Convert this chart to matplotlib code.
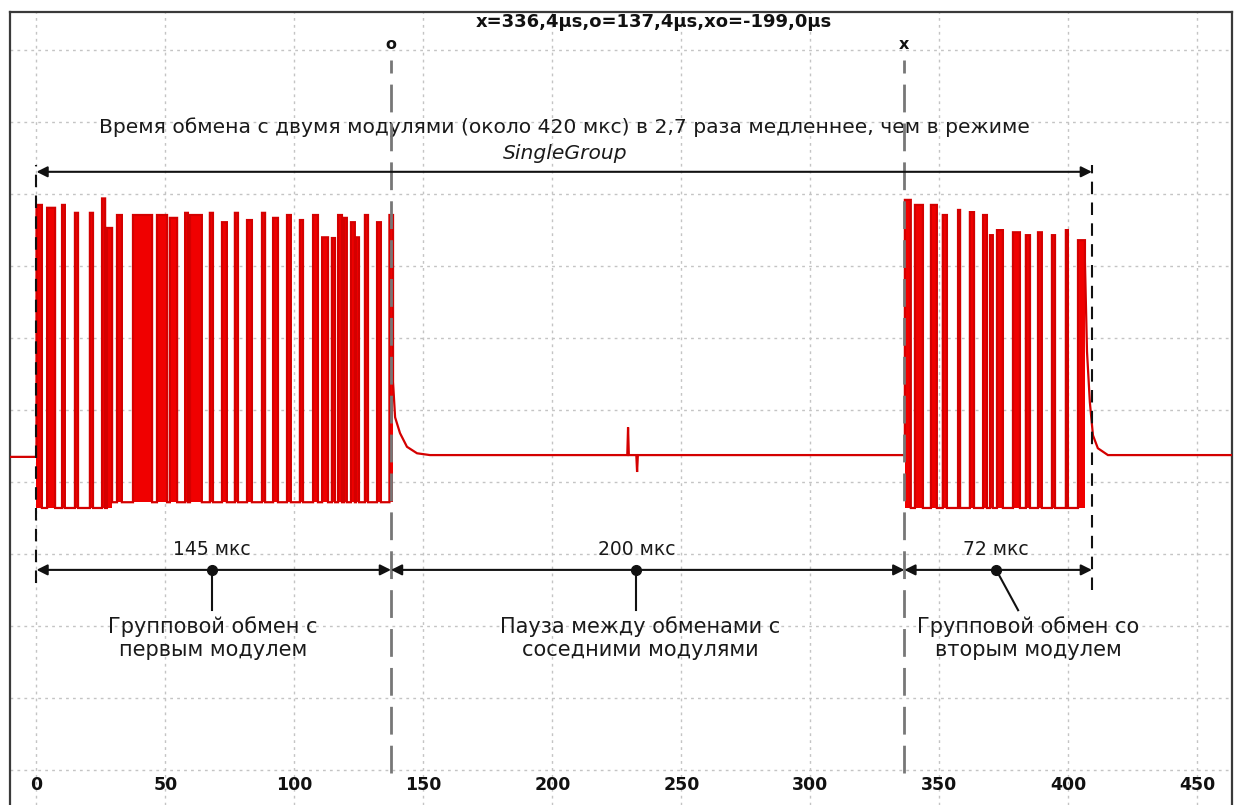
import numpy as np
import matplotlib
matplotlib.use("Agg")
import matplotlib.pyplot as plt

# ---------------- data (time in µs, level in screen divisions) ----------------
tick_vals = [0, 50, 100, 150, 200, 250, 300, 350, 400, 450]
tick_labels = ["0", "50", "100", "150", "200", "250", "300", "350", "400", "450"]

baseline_level = 4.375
pre_level = 4.35

# first group (exchange with first module)
g1_start = [0.0, 4.1, 9.9, 14.9, 20.7, 25.4, 27.3, 31.2, 37.4, 46.7, 51.7, 57.6, 59.5,
            67.2, 71.9, 76.9, 81.6, 87.4, 91.7, 97.1, 102.1, 107.2, 110.7, 114.5, 116.9,
            119.2, 121.9, 123.8, 127.3, 132.0, 136.8]
g1_end = [2.1, 7.2, 11.0, 16.1, 21.9, 26.6, 29.3, 33.1, 44.8, 50.6, 54.5, 58.7, 64.1,
          68.4, 73.8, 78.1, 83.5, 88.6, 93.6, 98.6, 103.3, 109.1, 113.0, 115.7, 118.4,
          120.3, 123.4, 125.0, 128.5, 133.5, 138.2]
g1_high = [7.85, 7.81, 7.85, 7.74, 7.74, 7.94, 7.53, 7.71, 7.71, 7.71, 7.67, 7.74, 7.71,
           7.74, 7.61, 7.74, 7.64, 7.74, 7.67, 7.71, 7.64, 7.71, 7.40, 7.39, 7.71,
           7.67, 7.61, 7.40, 7.71, 7.61, 7.71]
g1_low = [4.35, 3.64, 3.64, 3.64, 3.64, 3.64, 3.64, 3.72, 3.72, 3.72, 3.72, 3.72, 3.72,
          3.72, 3.72, 3.72, 3.72, 3.72, 3.72, 3.72, 3.72, 3.72, 3.72, 3.72, 3.72,
          3.72, 3.72, 3.72, 3.72, 3.72, 3.72]
d1_t = [138.2, 139.0, 140.9, 143.6, 147.5, 152.5]
d1_v = [5.39, 4.90, 4.68, 4.49, 4.40, 4.375]

# glitch in the pause
glitch_t = [229.3, 232.8]
glitch_v = [4.76, 4.14]

# second group (exchange with second module)
g2_start = [336.6, 340.5, 346.7, 351.3, 357.2, 361.8, 366.9, 369.6, 372.3, 378.5,
            383.5, 388.2, 393.6, 399.0, 403.7]
g2_end = [338.9, 343.6, 349.0, 352.9, 358.0, 363.4, 368.4, 370.7, 374.6, 381.2,
          385.1, 389.7, 394.8, 399.8, 406.4]
g2_high = [7.92, 7.85, 7.85, 7.71, 7.78, 7.75, 7.71, 7.43, 7.50, 7.47, 7.43, 7.47,
           7.43, 7.50, 7.36]
g2_low = [4.375, 3.64, 3.64, 3.64, 3.64, 3.64, 3.64, 3.64, 3.64, 3.64, 3.64, 3.64,
          3.64, 3.64, 3.64]
d2_t = [406.4, 407.2, 408.3, 409.5, 411.4, 415.3]
d2_v = [7.06, 5.81, 5.11, 4.65, 4.47, 4.375]

# cursors and measurement spans
cursor_o = 137.4
cursor_x = 336.4
span_start = 0.0
span_end = 409.1
title_text = "x=336,4µs,o=137,4µs,xo=-199,0µs"
top_text = "Время обмена с двумя модулями (около 420 мкс) в 2,7 раза медленнее, чем в режиме"
top_text2 = "SingleGroup"
seg_bounds = [(0.0, 137.4), (137.4, 336.4), (336.4, 409.1)]
seg_labels = ["145 мкс", "200 мкс", "72 мкс"]
seg_dot = [68.0, 232.5, 372.0]
seg_tail = [68.0, 232.5, 380.5]
seg_desc = ["Групповой обмен с\nпервым модулем",
            "Пауза между обменами с\nсоседними модулями",
            "Групповой обмен со\nвторым модулем"]
seg_desc_x = [68.5, 234.0, 384.5]

XMIN, XMAX = -10.27, 463.4
YMIN, YMAX = -0.486, 10.53

# ---------------- figure ----------------
W, H = 1237, 805
fig = plt.figure(figsize=(W / 100, H / 100), dpi=100)
fig.patch.set_facecolor("white")
ax = fig.add_axes([10 / W, 0, 1222 / W, 793 / H])
ax.set_xlim(XMIN, XMAX)
ax.set_ylim(YMIN, YMAX)
for side in ["left", "top", "right"]:
    ax.spines[side].set_color("#3a3a3a")
    ax.spines[side].set_linewidth(1.6)
ax.spines["bottom"].set_visible(False)
ax.set_xticks([])
ax.set_yticks([])

# grid
grid_kw = dict(color="#c4c4c4", lw=1.0, linestyle=(0, (2, 3)), zorder=0)
for t in tick_vals:
    ax.axvline(t, **grid_kw)
for v in range(0, 11):
    ax.axhline(v, **grid_kw)

# tick labels inside the frame
for t, lab in zip(tick_vals, tick_labels):
    ax.text(t, -0.21, lab, ha="center", va="center", fontsize=12.5,
            fontweight="bold", color="#111111")


def group_points(starts, ends, highs, lows):
    xs, ys = [], []
    n = len(starts)
    for i in range(n):
        xs += [starts[i], starts[i], ends[i]]
        ys += [lows[i], highs[i], highs[i]]
        if i < n - 1:
            xs.append(ends[i])
            ys.append(lows[i + 1])
    return xs, ys


def bars(starts, ends, highs, lows):
    s = np.array(starts)
    e = np.array(ends)
    h = np.array(highs)
    lo = np.array(lows[1:] + [lows[-1]])
    lo = np.minimum(lo, np.array(lows))
    ax.bar(s, h - lo, width=e - s, bottom=lo, align="edge",
           color="#f00000", linewidth=0, zorder=2)


bars(g1_start, g1_end, g1_high, g1_low)
bars(g2_start, g2_end, g2_high, g2_low)

tx, ty = [XMIN, 0.0], [pre_level, pre_level]
x1, y1 = group_points(g1_start, g1_end, g1_high, g1_low)
tx += x1; ty += y1
tx += d1_t; ty += d1_v
for gt, gv in zip(glitch_t, glitch_v):
    tx += [gt - 0.3, gt, gt + 0.3]
    ty += [baseline_level, gv, baseline_level]
x2, y2 = group_points(g2_start, g2_end, g2_high, g2_low)
tx += x2; ty += y2
tx += d2_t; ty += d2_v
tx.append(XMAX); ty.append(baseline_level)
ax.plot(tx, ty, color="#d40000", lw=1.6, zorder=3, solid_joinstyle="miter")

# cursor lines
for c, lab in [(cursor_o, "o"), (cursor_x, "x")]:
    ax.plot([c, c], [-0.04, 9.86], color="#777777", lw=2.0,
            linestyle=(0, (10, 4)), zorder=4)
    ax.text(c, 10.08, lab, ha="center", va="center", fontsize=11.5,
            fontweight="bold", color="#111111")

# black dashed span boundaries
ax.plot([span_start, span_start], [2.6, 8.4], color="#111111", lw=1.5,
        linestyle=(0, (6, 4)), zorder=5)
ax.plot([span_end, span_end], [2.5, 8.4], color="#111111", lw=1.5,
        linestyle=(0, (6, 4)), zorder=5)

ax.text(239.3, 10.39, title_text, ha="center", va="center", fontsize=13,
        fontweight="bold", color="#111111")

# top span arrow and text
ax.annotate("", xy=(span_end, 8.31), xytext=(span_start, 8.31),
            arrowprops=dict(arrowstyle="<|-|>", color="#111111", lw=1.5,
                            mutation_scale=16, shrinkA=0, shrinkB=0), zorder=6)
ax.text(204.8, 8.93, top_text, ha="center", va="center", fontsize=14.6,
        color="#1a1a1a")
ax.text(204.8, 8.57, top_text2, ha="center", va="center", fontsize=14.6,
        style="italic", color="#1a1a1a")

# segment arrows
for (a, b), lab, dx, tx_, desc, descx in zip(seg_bounds, seg_labels,
                                             seg_dot, seg_tail, seg_desc, seg_desc_x):
    ax.annotate("", xy=(b, 2.78), xytext=(a, 2.78),
                arrowprops=dict(arrowstyle="<|-|>", color="#111111", lw=1.5,
                                mutation_scale=16, shrinkA=0, shrinkB=0), zorder=6)
    ax.text(dx, 3.07, lab, ha="center", va="center", fontsize=13.5, color="#1a1a1a")
    ax.plot([dx, tx_], [2.78, 2.22], color="#111111", lw=1.5, zorder=6)
    ax.plot([dx], [2.78], "o", color="#111111", ms=7, zorder=7)
    ax.text(descx, 1.83, desc, ha="center", va="center", fontsize=15,
            color="#1a1a1a", linespacing=1.2)

fig.savefig("out.png", dpi=100, facecolor="white")
